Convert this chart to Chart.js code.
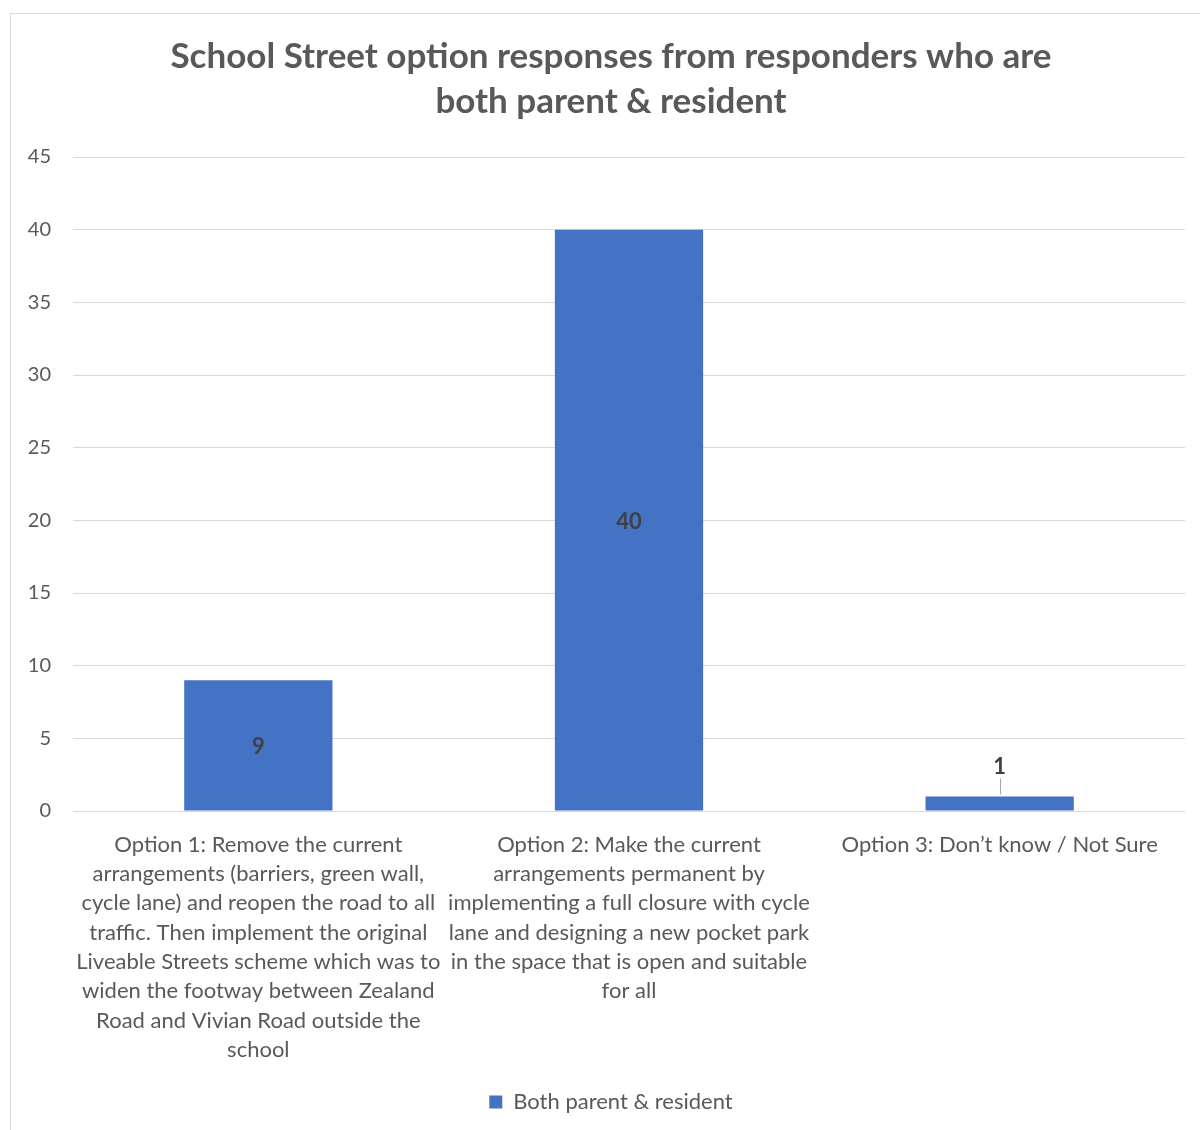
<!DOCTYPE html>
<html>
<head>
<meta charset="utf-8">
<title>School Street option responses</title>
<script src="https://cdn.jsdelivr.net/npm/chart.js@4"></script>
<style>
    html, body { margin: 0; padding: 0; background: #fff; overflow: hidden; }
    .frame {
        position: absolute;
        left: 10px;
        top: 13px;
        width: 1200px;
        height: 1130px;
        border-left: 1px solid #d9d9d9;
        border-top: 1px solid #d9d9d9;
    }
    .chart-box { position: absolute; left: 0; top: 0; width: 1189px; height: 1116px; }
</style>
</head>
<body>
<div class="frame">
    <div class="chart-box"><canvas id="optionChart"></canvas></div>
</div>
<script>
// Chart data
const categories = [
    ['Option 1: Remove the current', 'arrangements (barriers, green wall,', 'cycle lane) and reopen the road to all',
     'traffic. Then implement the original', 'Liveable Streets scheme which was to', 'widen the footway between Zealand',
     'Road and Vivian Road outside the', 'school'],
    ['Option 2: Make the current', 'arrangements permanent by', 'implementing a full closure with cycle',
     'lane and designing a new pocket park', 'in the space that is open and suitable', 'for all'],
    ['Option 3: Don\u2019t know / Not Sure']
];
const responses = [9, 40, 1];
const seriesName = 'Both parent & resident';
const chartTitle = ['School Street option responses from responders who are', 'both parent & resident'];
const yTicks = [0, 5, 10, 15, 20, 25, 30, 35, 40, 45];

const FONT = 'Lato, "Open Sans", sans-serif';
const GREY = '#595959';

// Bar value labels (inside centre, or above with a leader line when the bar is too short)
const valueLabels = {
    id: 'valueLabels',
    afterDatasetsDraw(chart) {
        const ctx = chart.ctx;
        const meta = chart.getDatasetMeta(0);
        ctx.save();
        ctx.font = 'bold 22px ' + FONT;
        ctx.fillStyle = '#404040';
        ctx.textAlign = 'center';
        ctx.textBaseline = 'middle';
        meta.data.forEach((bar, i) => {
            const value = chart.data.datasets[0].data[i];
            const h = bar.base - bar.y;
            if (h > 40) {
                ctx.fillText(value, bar.x, bar.y + h / 2 + 2);
            } else {
                ctx.fillText(value, bar.x, bar.y - 30);
                ctx.strokeStyle = '#a6a6a6';
                ctx.lineWidth = 1;
                ctx.beginPath();
                ctx.moveTo(Math.round(bar.x) + 0.5, bar.y - 18);
                ctx.lineTo(Math.round(bar.x) + 0.5, bar.y - 2);
                ctx.stroke();
            }
        });
        ctx.restore();
    }
};

const ctx = document.getElementById('optionChart').getContext('2d');
const optionChart = new Chart(ctx, {
    type: 'bar',
    data: {
        labels: categories,
        datasets: [{
            label: seriesName,
            data: responses,
            backgroundColor: '#4472C4',
            borderWidth: 0,
            categoryPercentage: 1.0,
            barPercentage: 0.4
        }]
    },
    options: {
        responsive: true,
        maintainAspectRatio: false,
        animation: false,
        layout: {
            padding: { top: 0, right: 2, bottom: 7, left: 13 }
        },
        plugins: {
            title: {
                display: true,
                text: chartTitle,
                color: GREY,
                font: { family: FONT, size: 35, weight: 'bold', lineHeight: 1.286 },
                padding: { top: 20, bottom: 33 }
            },
            legend: {
                position: 'bottom',
                labels: {
                    color: GREY,
                    font: { family: FONT, size: 22 },
                    boxWidth: 13,
                    boxHeight: 13,
                    padding: 9
                }
            },
            tooltip: { enabled: false }
        },
        scales: {
            x: {
                grid: { display: false },
                border: { display: false },
                ticks: {
                    color: GREY,
                    font: { family: FONT, size: 22, lineHeight: 1.333 },
                    maxRotation: 0,
                    autoSkip: false,
                    padding: 11
                },
                afterFit(scale) {
                    scale.height = 271;
                }
            },
            y: {
                min: 0,
                max: 45,
                grid: { color: '#d9d9d9', lineWidth: 1, drawTicks: false },
                border: { display: false },
                afterBuildTicks(scale) {
                    scale.ticks = yTicks.map(v => ({ value: v }));
                },
                ticks: {
                    color: GREY,
                    font: { family: FONT, size: 20 },
                    padding: 22
                },
                afterFit(scale) {
                    scale.width = 49;
                }
            },
            // empty right-hand spacer so the plot stops short of the frame
            spacer: {
                type: 'linear',
                position: 'right',
                display: true,
                grid: { display: false },
                border: { display: false },
                ticks: { display: false },
                afterFit(scale) {
                    scale.width = 13;
                }
            }
        }
    },
    plugins: [valueLabels]
});
</script>
</body>
</html>
